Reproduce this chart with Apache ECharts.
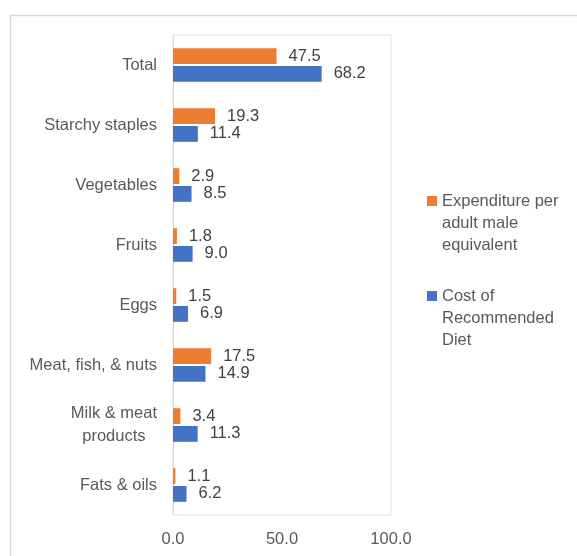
<!DOCTYPE html>
<html><head><meta charset="utf-8">
<script src="https://cdn.jsdelivr.net/npm/echarts@6/dist/echarts.min.js"></script>
<style>html,body{margin:0;padding:0;background:#fff}#c{width:577px;height:556px}</style>
</head><body><div id="c"></div>
<script>
const categories = ["Total","Starchy staples","Vegetables","Fruits","Eggs","Meat, fish, & nuts","Milk & meat\nproducts","Fats & oils"];
const expenditure = [47.5,19.3,2.9,1.8,1.5,17.5,3.4,1.1];
const costDiet = [68.2,11.4,8.5,9.0,6.9,14.9,11.3,6.2];
const seriesNames = ["Expenditure per\nadult male\nequivalent","Cost of\nRecommended\nDiet"];
const xTicks = [0,50,100];

const font = "'Liberation Sans', Arial, sans-serif";
const fs = 16.5;
const chart = echarts.init(document.getElementById('c'), null, {renderer:'canvas'});
const lbl = {show:true, position:'right', color:'#404040', fontSize:fs, fontFamily:font, distance:12, formatter:p=>p.value.toFixed(1)};
const iconPath = 'path://M0,0L10,0L10,0.01Z M0,6H10V16H0Z M0,67L10,67L10,67.01Z';
chart.setOption({
  animation:false,
  graphic:[{type:'rect', left:8, top:13, shape:{width:620, height:620}, style:{fill:'none', stroke:'#d9d9d9', lineWidth:1.5}, z:-1}],
  grid:{left:173, top:35, width:218, height:480, show:true, borderColor:'#e3e3e3', borderWidth:1, containLabel:false},
  legend:{orient:'vertical', left:422, top:185, itemWidth:10, itemHeight:67, itemGap:28, icon:iconPath,
    textStyle:{color:'#595959', fontSize:fs, fontFamily:font, lineHeight:22.3, padding:[0,0,0,0]},
    data:seriesNames},
  xAxis:{type:'value', min:xTicks[0], max:xTicks[xTicks.length-1], interval:50,
    axisLabel:{color:'#595959', fontSize:fs, fontFamily:font, margin:16, formatter:v=>v.toFixed(1)},
    splitLine:{show:false}, axisLine:{show:false}, axisTick:{show:false}},
  yAxis:{type:'category', inverse:true, data:categories,
    axisLabel:{color:'#595959', fontSize:fs, fontFamily:font, margin:16, lineHeight:23,
      formatter:v=>{const parts=v.split('\n'); return parts.length>1 ? '{a|'+parts[0]+'}\n{b|'+parts[1]+'}' : v;},
      rich:{a:{color:'#595959', fontSize:fs, fontFamily:font, lineHeight:23},
            b:{color:'#595959', fontSize:fs, fontFamily:font, lineHeight:23, width:86, align:'center'}}},
    axisLine:{show:true, lineStyle:{color:'#d9d9d9'}}, axisTick:{show:false}},
  series:[
    {name:seriesNames[0], type:'bar', data:expenditure, itemStyle:{color:'#ED7D31'}, barGap:'12%', barCategoryGap:'44%', label:lbl},
    {name:seriesNames[1], type:'bar', data:costDiet, itemStyle:{color:'#4472C4'}, barGap:'12%', barCategoryGap:'44%', label:lbl}
  ]
});
</script></body></html>
